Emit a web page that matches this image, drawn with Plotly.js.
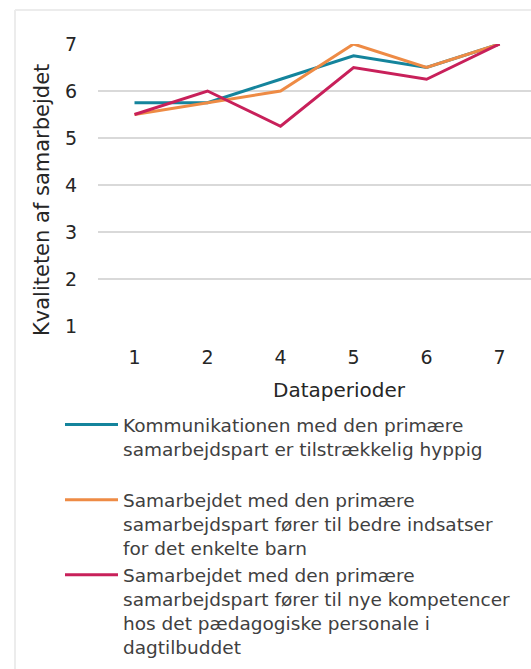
<!DOCTYPE html>
<html>
<head>
<meta charset="utf-8">
<script src="https://cdn.plot.ly/plotly-3.0.1.min.js"></script>
<style>
  html, body { margin: 0; padding: 0; background: #ffffff; }
  #chart { width: 531px; height: 669px; }
</style>
</head>
<body>
<div id="chart"></div>
<script>
const periods = ['1', '2', '4', '5', '6', '7'];
const seriesNames = [
  'Kommunikationen med den primære<br>samarbejdspart er tilstrækkelig hyppig<br> ',
  'Samarbejdet med den primære<br>samarbejdspart fører til bedre indsatser<br>for det enkelte barn',
  'Samarbejdet med den primære<br>samarbejdspart fører til nye kompetencer<br>hos det pædagogiske personale i<br>dagtilbuddet'
];
const kommunikation = [5.75, 5.75, 6.25, 6.75, 6.5, 7];
const indsatser = [5.5, 5.75, 6.0, 7.0, 6.5, 7];
const kompetencer = [5.5, 6.0, 5.25, 6.5, 6.25, 7];
const yTitle = 'Kvaliteten af samarbejdet';
const xTitle = 'Dataperioder';
const colors = ['#14849C', '#EE8B45', '#C8205A'];

const L = 98, R = 531, T = 44, B = 326;
const W = R - L, H = B - T;
const px = v => (v - L) / W;
const py = v => (B - v) / H;

const values = [kommunikation, indsatser, kompetencer];
const traces = values.map((vals, i) => ({
  type: 'scatter',
  mode: 'lines',
  x: periods,
  y: vals,
  name: seriesNames[i],
  line: { color: colors[i], width: 3 },
  cliponaxis: false,
  hoverinfo: 'skip'
}));

const font = 'DejaVu Sans, Verdana, sans-serif';

const layout = {
  width: 531,
  height: 669,
  margin: { l: L, r: 531 - R, t: T, b: 669 - B },
  paper_bgcolor: '#ffffff',
  plot_bgcolor: '#ffffff',
  showlegend: true,
  legend: {
    x: px(60), xanchor: 'left',
    y: py(406), yanchor: 'top',
    font: { family: font, size: 18.5, color: '#404040' },
    itemwidth: 53,
    valign: 'top',
    bgcolor: 'rgba(0,0,0,0)',
    tracegroupgap: 0
  },
  xaxis: {
    type: 'category',
    range: [-0.5, 5.43],
    showgrid: false,
    zeroline: false,
    showline: false,
    ticks: '',
    tickfont: { family: font, size: 19, color: '#262626' },
    ticklabelstandoff: 18
  },
  yaxis: {
    range: [1, 7],
    dtick: 1,
    tick0: 1,
    showgrid: true,
    gridcolor: '#d9d9d9',
    gridwidth: 2,
    zeroline: false,
    showline: false,
    ticks: '',
    tickfont: { family: font, size: 19, color: '#262626' },
    ticklabelstandoff: 20
  },
  annotations: [
    {
      text: yTitle, textangle: -90,
      xref: 'paper', yref: 'paper',
      x: px(42), y: py(200), xanchor: 'center', yanchor: 'middle',
      showarrow: false,
      font: { family: font, size: 21, color: '#262626' }
    },
    {
      text: xTitle,
      xref: 'paper', yref: 'paper',
      x: px(339), y: py(390), xanchor: 'center', yanchor: 'middle',
      showarrow: false,
      font: { family: font, size: 20, color: '#262626' }
    }
  ],
  shapes: [
    { type: 'line', xref: 'paper', yref: 'paper', x0: px(15), x1: px(540), y0: py(10), y1: py(10), line: { color: '#ececec', width: 2 } },
    { type: 'line', xref: 'paper', yref: 'paper', x0: px(15), x1: px(15), y0: py(10), y1: py(680), line: { color: '#ececec', width: 2 } }
  ]
};

Plotly.newPlot('chart', traces, layout, { displayModeBar: false, staticPlot: true });
</script>
</body>
</html>
